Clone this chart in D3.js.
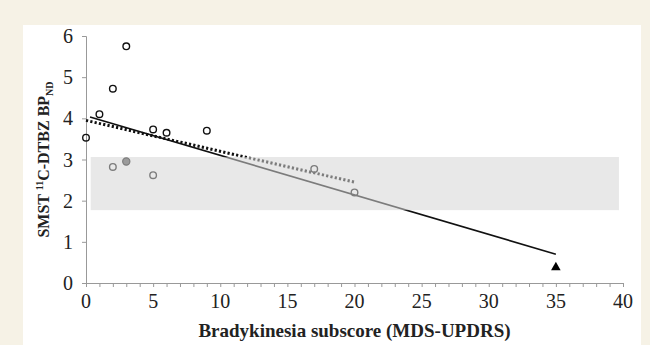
<!DOCTYPE html>
<html>
<head>
<meta charset="utf-8">
<script src="https://cdn.jsdelivr.net/npm/d3@7"></script>
<style>
  body { margin: 0; background: #f6f2e6; }
  svg { display: block; }
</style>
</head>
<body>
<div id="chart"></div>
<script>
// data
const blackPoints = [[0, 3.53], [1, 4.1], [2, 4.72], [3, 5.75], [5, 3.73], [6, 3.65], [9, 3.7]];
const greyPoints = [[2, 2.82], [5, 2.62], [17, 2.77], [20, 2.2]];
const filledPoints = [[3, 2.95]];
const trianglePoints = [[35, 0.38]];
const solidFit = [[0.3, 4.03], [35, 0.7]];
const dottedFit = [[0, 3.95], [20, 2.45]];
const band = { x0: 0.35, x1: 39.7, y0: 1.77, y1: 3.06 };
const xTicks = [0, 5, 10, 15, 20, 25, 30, 35, 40];
const yTicks = [0, 1, 2, 3, 4, 5, 6];

const width = 650, height = 345;
const margin = { left: 86, right: 27, top: 36, bottom: 62 };

const svg = d3.select("#chart").append("svg")
    .attr("width", width)
    .attr("height", height);

svg.append("rect")
    .attr("x", 23).attr("y", 25)
    .attr("width", 618).attr("height", 330)
    .attr("fill", "#fff");

const xScale = d3.scaleLinear().domain([0, 40]).range([margin.left, width - margin.right]);
const yScale = d3.scaleLinear().domain([0, 6]).range([height - margin.bottom, margin.top]);

const font = "'Liberation Serif', 'Times New Roman', serif";

// axes
const xAxis = svg.append("g")
    .attr("transform", `translate(0,${yScale(0)})`)
    .call(d3.axisBottom(xScale).ticks(40).tickSize(4).tickFormat(""));
xAxis.select(".domain").attr("stroke", "#999");
xAxis.selectAll(".tick line").attr("stroke", "#999");

svg.append("g").selectAll("text").data(xTicks).join("text")
    .attr("x", d => xScale(d))
    .attr("y", yScale(0) + 25)
    .attr("text-anchor", "middle")
    .attr("font-family", font)
    .attr("font-size", 20)
    .attr("fill", "#222")
    .text(d => d);

const yAxis = svg.append("g")
    .attr("transform", `translate(${margin.left},0)`)
    .call(d3.axisLeft(yScale).tickValues(yTicks).tickSize(4).tickFormat(""));
yAxis.select(".domain").attr("stroke", "#999");
yAxis.selectAll(".tick line").attr("stroke", "#999");

svg.append("g").selectAll("text").data(yTicks).join("text")
    .attr("x", margin.left - 13)
    .attr("y", d => yScale(d) + 7)
    .attr("text-anchor", "end")
    .attr("font-family", font)
    .attr("font-size", 20)
    .attr("fill", "#222")
    .text(d => d);

// fits
const line = d3.line().x(d => xScale(d[0])).y(d => yScale(d[1]));

svg.append("path")
    .attr("d", line(solidFit))
    .attr("fill", "none")
    .attr("stroke", "#111")
    .attr("stroke-width", 1.6);

svg.append("path")
    .attr("d", line(dottedFit))
    .attr("fill", "none")
    .attr("stroke", "#111")
    .attr("stroke-width", 3)
    .attr("stroke-dasharray", "2.2,2.2");

// points
const circles = svg.append("g");
circles.selectAll(".b").data(blackPoints).join("circle")
    .attr("cx", d => xScale(d[0])).attr("cy", d => yScale(d[1]))
    .attr("r", 3.3).attr("fill", "none").attr("stroke", "#111").attr("stroke-width", 1.4);
circles.selectAll(".g").data(greyPoints).join("circle")
    .attr("cx", d => xScale(d[0])).attr("cy", d => yScale(d[1]))
    .attr("r", 3.3).attr("fill", "none").attr("stroke", "#111").attr("stroke-width", 1.4);
circles.selectAll(".f").data(filledPoints).join("circle")
    .attr("cx", d => xScale(d[0])).attr("cy", d => yScale(d[1]))
    .attr("r", 3.6).attr("fill", "#555").attr("stroke", "#111").attr("stroke-width", 1.2);

svg.append("g").selectAll("path").data(trianglePoints).join("path")
    .attr("transform", d => `translate(${xScale(d[0])},${yScale(d[1])})`)
    .attr("d", d3.symbol().type(d3.symbolTriangle).size(40))
    .attr("fill", "#000");

// translucent normal range band drawn on top
svg.append("rect")
    .attr("x", xScale(band.x0))
    .attr("y", yScale(band.y1))
    .attr("width", xScale(band.x1) - xScale(band.x0))
    .attr("height", yScale(band.y0) - yScale(band.y1))
    .attr("fill", "#d6d6d6")
    .attr("fill-opacity", 0.55);

// titles
svg.append("text")
    .attr("x", (xScale(0) + xScale(40)) / 2)
    .attr("y", 337)
    .attr("text-anchor", "middle")
    .attr("font-family", font)
    .attr("font-weight", "bold")
    .attr("font-size", 19)
    .attr("fill", "#222")
    .text("Bradykinesia subscore (MDS-UPDRS)");

const yTitle = svg.append("text")
    .attr("transform", `translate(49,${yScale(3)}) rotate(-90)`)
    .attr("text-anchor", "middle")
    .attr("font-family", font)
    .attr("font-weight", "bold")
    .attr("font-size", 16)
    .attr("fill", "#222");
yTitle.append("tspan").text("SMST ");
yTitle.append("tspan").attr("font-size", 10).attr("dy", -6).text("11");
yTitle.append("tspan").attr("dy", 6).text("C-DTBZ BP");
yTitle.append("tspan").attr("font-size", 10).attr("dy", 4).text("ND");
</script>
</body>
</html>
